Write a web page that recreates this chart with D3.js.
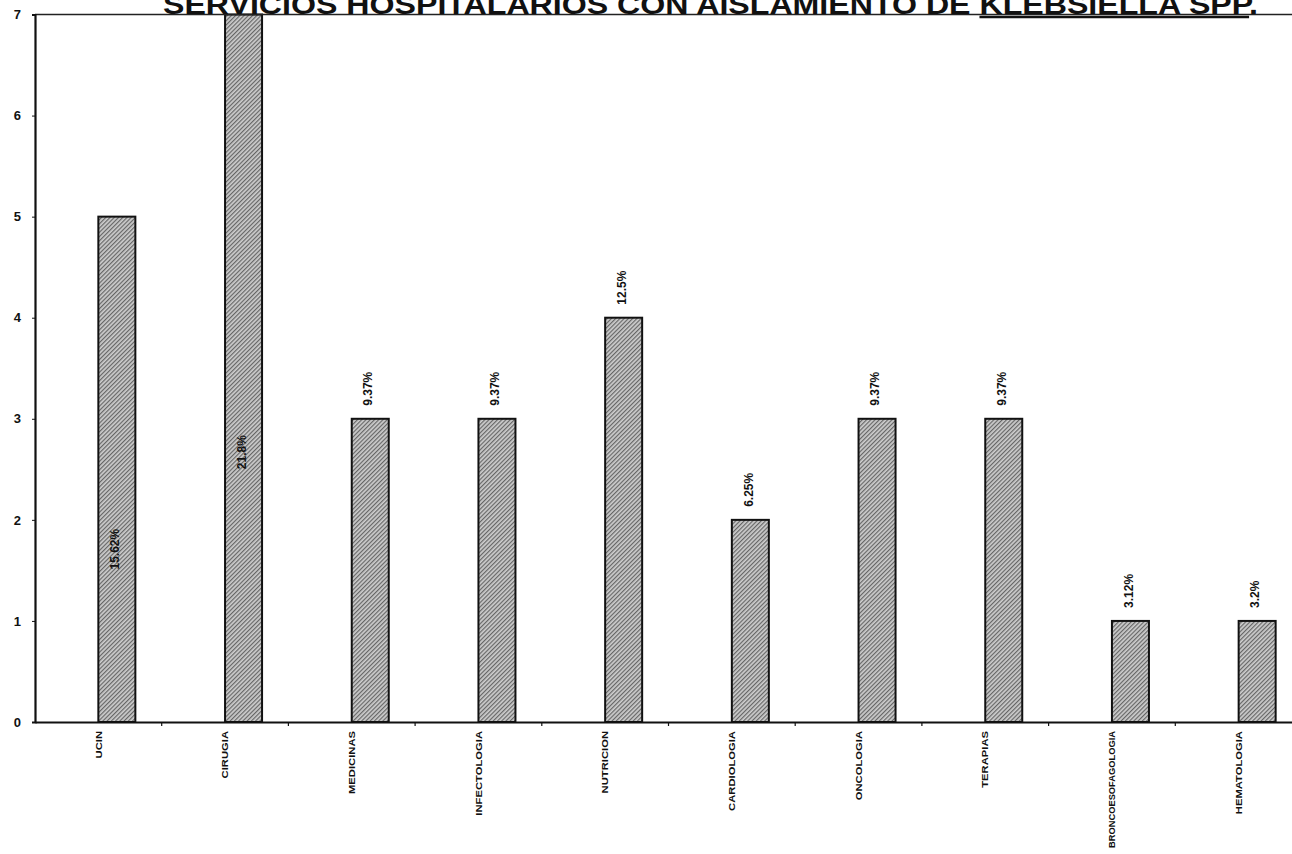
<!DOCTYPE html>
<html>
<head>
<meta charset="utf-8">
<script src="https://cdn.jsdelivr.net/npm/d3@7"></script>
<style>
  html, body { margin: 0; padding: 0; background: #fff; }
  svg { display: block; font-family: "Liberation Sans", Arial, sans-serif; }
</style>
</head>
<body>
<svg id="chart" width="1292" height="854"></svg>
<script>
// Aislamientos de Klebsiella spp. por servicio hospitalario
const categories = ["UCIN", "CIRUGIA", "MEDICINAS", "INFECTOLOGIA", "NUTRICION",
                    "CARDIOLOGIA", "ONCOLOGIA", "TERAPIAS", "BRONCOESOFAGOLOGIA", "HEMATOLOGIA"];
const counts = [5, 7, 3, 3, 4, 2, 3, 3, 1, 1];
const percentLabels = ["15.62%", "21.8%", "9.37%", "9.37%", "12.5%", "6.25%", "9.37%", "9.37%", "3.12%", "3.2%"];
const yTicks = [0, 1, 2, 3, 4, 5, 6, 7];
const title = "SERVICIOS HOSPITALARIOS CON AISLAMIENTO DE KLEBSIELLA SPP.";
// two series per category, the first one left empty
const seriesKeys = ["vacio", "aislamientos"];

const svg = d3.select("#chart");
const plot = { left: 35, right: 1302, top: 14.5, bottom: 722 };

const x = d3.scaleBand().domain(categories).range([plot.left, plot.right]).padding(0);
const xSub = d3.scaleBand().domain(seriesKeys).range([0, x.bandwidth()])
  .paddingInner(0).paddingOuter(0.712);
const y = d3.scaleLinear().domain([0, 7]).range([plot.bottom, plot.top]);

// hatch fill for the bars
const defs = svg.append("defs");
const pat = defs.append("pattern")
  .attr("id", "hatch").attr("patternUnits", "userSpaceOnUse")
  .attr("width", 3).attr("height", 3)
  .attr("patternTransform", "rotate(45)");
pat.append("rect").attr("width", 3).attr("height", 3).attr("fill", "#cdcdcd");
pat.append("rect").attr("width", 1.2).attr("height", 3).attr("fill", "#666");

const data = categories.map((c, i) => ({ c, v: counts[i], label: percentLabels[i] }));

// bars
svg.append("g").selectAll("rect").data(data).join("rect")
  .attr("x", d => x(d.c) + xSub("aislamientos"))
  .attr("y", d => y(d.v))
  .attr("width", xSub.bandwidth())
  .attr("height", d => y(0) - y(d.v))
  .attr("fill", "url(#hatch)")
  .attr("stroke", "#111").attr("stroke-width", 2);

// frame: left axis, top border, bottom axis
svg.append("line").attr("x1", plot.left).attr("x2", 1292).attr("y1", plot.top).attr("y2", plot.top)
  .attr("stroke", "#222").attr("stroke-width", 1.6);

const yAxis = d3.axisLeft(y).tickValues(yTicks).tickSize(3).tickFormat(d3.format("d"));
const gy = svg.append("g").attr("transform", `translate(${plot.left},0)`).call(yAxis);
gy.select(".domain").attr("stroke", "#111").attr("stroke-width", 2.2);
gy.selectAll(".tick line").attr("stroke", "#111");
gy.selectAll(".tick text")
  .attr("x", -14).attr("font-size", 13).attr("font-weight", "bold").attr("fill", "#111");

const xAxis = d3.axisBottom(x).tickSize(0).tickFormat("");
const gx = svg.append("g").attr("transform", `translate(0,${plot.bottom})`).call(xAxis);
gx.select(".domain").attr("stroke", "#111").attr("stroke-width", 2.2);
gx.selectAll(".tick").remove();
// category boundary ticks
gx.selectAll("line.sep").data(categories.slice(1)).join("line")
  .attr("class", "sep")
  .attr("x1", d => x(d)).attr("x2", d => x(d))
  .attr("y1", 0).attr("y2", 4)
  .attr("stroke", "#111").attr("stroke-width", 1.2);

// category names, rotated, under the axis; long names are squeezed to fit
const stretch = 1.25, maxLen = 117;
const catText = svg.append("g").selectAll("text").data(data).join("text")
  .attr("transform", d => `translate(${x(d.c) + x.bandwidth() / 2},${plot.bottom + 9}) rotate(-90) scale(${stretch},1)`)
  .attr("dy", "0.35em")
  .attr("text-anchor", "end")
  .attr("font-size", 9).attr("font-weight", "bold").attr("fill", "#111")
  .text(d => d.c);
catText.each(function () {
  const len = this.getComputedTextLength() * stretch;
  if (len > maxLen) {
    d3.select(this).attr("textLength", maxLen / stretch).attr("lengthAdjust", "spacingAndGlyphs");
  }
});

// percentage labels: inside the two tallest bars, above the rest
const insideAt = { UCIN: 1.71, CIRUGIA: 2.67 };
svg.append("g").selectAll("text").data(data).join("text")
  .attr("transform", d => {
    const cx = x(d.c) + xSub("aislamientos") + xSub.bandwidth() / 2 - 2;
    const cy = d.c in insideAt ? y(insideAt[d.c]) : y(d.v) - 13;
    return `translate(${cx},${cy}) rotate(-90)`;
  })
  .attr("dy", "0.35em")
  .attr("text-anchor", d => d.c in insideAt ? "middle" : "start")
  .attr("font-size", 12).attr("font-weight", "bold").attr("fill", "#111")
  .text(d => d.label);

// title, partly cut at the top edge
const t = svg.append("text")
  .attr("x", 163).attr("y", 14)
  .attr("font-size", 28).attr("font-weight", "bold").attr("fill", "#111")
  .attr("textLength", 1095).attr("lengthAdjust", "spacingAndGlyphs")
  .text(title);

// underline under the genus name
const full = t.node();
const start = title.indexOf("KLEBSIELLA");
const x0 = full.getStartPositionOfChar(start).x;
const x1 = full.getEndPositionOfChar(title.length - 2).x;
svg.append("line").attr("x1", x0).attr("x2", x1).attr("y1", 17).attr("y2", 17)
  .attr("stroke", "#111").attr("stroke-width", 2.5);
</script>
</body>
</html>
